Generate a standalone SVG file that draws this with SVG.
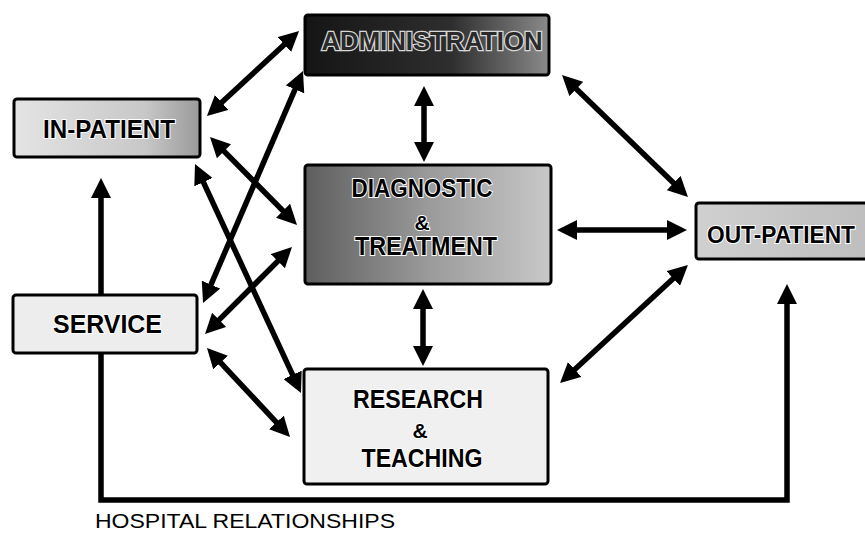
<svg xmlns="http://www.w3.org/2000/svg" width="865" height="543" viewBox="0 0 865 543">
  <style>
    .box { stroke: #000; stroke-width: 3; }
    .lbl { font-family: "Liberation Sans", Arial, sans-serif; font-weight: bold; font-size: 25px; fill: #000; stroke: #fff; stroke-width: 2; paint-order: stroke; text-anchor: middle; }
    .amp { font-size: 21px; }
    .dark { fill: #2a2a2a; stroke: #d8d8d8; stroke-width: 2.5; }
    .con { fill: none; stroke: #000; stroke-width: 5.5; marker-start: url(#ah); marker-end: url(#ah); }
    .cap { font-family: "Liberation Sans", Arial, sans-serif; font-size: 21px; fill: #000; }
  </style>
  <defs>
    <marker id="ah" markerUnits="userSpaceOnUse" viewBox="0 0 20 20" markerWidth="20" markerHeight="20" refX="10" refY="10" orient="auto-start-reverse">
      <path d="M0,0 L20,10 L0,20 z" fill="#000"/>
    </marker>
    <linearGradient id="gAdmin" x1="0" y1="0" x2="1" y2="0">
      <stop offset="0" stop-color="#151515"/>
      <stop offset="0.6" stop-color="#2e2e2e"/>
      <stop offset="1" stop-color="#8a8a8a"/>
    </linearGradient>
    <linearGradient id="gDiag" x1="0" y1="0" x2="1" y2="0">
      <stop offset="0" stop-color="#5e5e5e"/>
      <stop offset="0.5" stop-color="#9a9a9a"/>
      <stop offset="1" stop-color="#c8c8c8"/>
    </linearGradient>
    <linearGradient id="gIn" x1="0" y1="0" x2="1" y2="0">
      <stop offset="0" stop-color="#e4e4e4"/>
      <stop offset="0.7" stop-color="#c8c8c8"/>
      <stop offset="1" stop-color="#9a9a9a"/>
    </linearGradient>
    <linearGradient id="gOut" x1="0" y1="0" x2="1" y2="0">
      <stop offset="0" stop-color="#d0d0d0"/>
      <stop offset="1" stop-color="#bdbdbd"/>
    </linearGradient>
  </defs>

  <g id="connectors">
    <line class="con" x1="214.3" y1="109.2" x2="291.7" y2="37.8"/>
    <line class="con" x1="207" y1="293.8" x2="299" y2="80.2"/>
    <line class="con" x1="217" y1="144.1" x2="290" y2="217.9"/>
    <line class="con" x1="199.2" y1="173.1" x2="296.8" y2="383.9"/>
    <line class="con" x1="212.1" y1="326.9" x2="284.9" y2="254.1"/>
    <line class="con" x1="213.8" y1="355.3" x2="283.2" y2="429.7"/>
    <line class="con" x1="424" y1="96" x2="424" y2="152"/>
    <line class="con" x1="423" y1="299" x2="423" y2="356"/>
    <line class="con" x1="567" y1="230" x2="677" y2="230"/>
    <line class="con" x1="569.2" y1="82" x2="680.8" y2="190"/>
    <line class="con" x1="680.6" y1="271.8" x2="567.4" y2="376.2"/>
    <polyline class="con" points="101,188 101,500 787,500 787,294"/>
  </g>

  <g id="admin">
    <rect class="box" x="305" y="15" width="244" height="60" rx="3" fill="url(#gAdmin)"/>
    <text class="lbl dark" x="432" y="50" textLength="221" lengthAdjust="spacingAndGlyphs">ADMINISTRATION</text>
  </g>

  <g id="inpatient">
    <rect class="box" x="14" y="99" width="186" height="58" rx="3" fill="url(#gIn)"/>
    <text class="lbl" x="109" y="138" textLength="132" lengthAdjust="spacingAndGlyphs">IN-PATIENT</text>
  </g>

  <g id="diagnostic">
    <rect class="box" x="305" y="165" width="246" height="119" rx="3" fill="url(#gDiag)"/>
    <text class="lbl" x="422" y="197" textLength="141" lengthAdjust="spacingAndGlyphs">DIAGNOSTIC</text>
    <text class="lbl amp" x="422" y="230">&amp;</text>
    <text class="lbl" x="426" y="255" textLength="142" lengthAdjust="spacingAndGlyphs">TREATMENT</text>
  </g>

  <g id="outpatient">
    <rect class="box" x="696" y="203" width="180" height="56" rx="3" fill="url(#gOut)"/>
    <text class="lbl" x="707" y="243" style="text-anchor:start;font-size:23px" textLength="148" lengthAdjust="spacingAndGlyphs">OUT-PATIENT</text>
  </g>

  <g id="service">
    <rect class="box" x="13" y="295" width="184" height="58" rx="3" fill="#ededed"/>
    <text class="lbl" x="107.5" y="333" textLength="109" lengthAdjust="spacingAndGlyphs">SERVICE</text>
  </g>

  <g id="research">
    <rect class="box" x="304" y="369" width="244" height="115" rx="3" fill="#f0f0f0"/>
    <text class="lbl" x="418" y="408" textLength="130" lengthAdjust="spacingAndGlyphs">RESEARCH</text>
    <text class="lbl amp" x="420" y="438">&amp;</text>
    <text class="lbl" x="422" y="467" textLength="121" lengthAdjust="spacingAndGlyphs">TEACHING</text>
  </g>

  <text class="cap" x="95" y="528" textLength="300" lengthAdjust="spacingAndGlyphs">HOSPITAL RELATIONSHIPS</text>
</svg>
